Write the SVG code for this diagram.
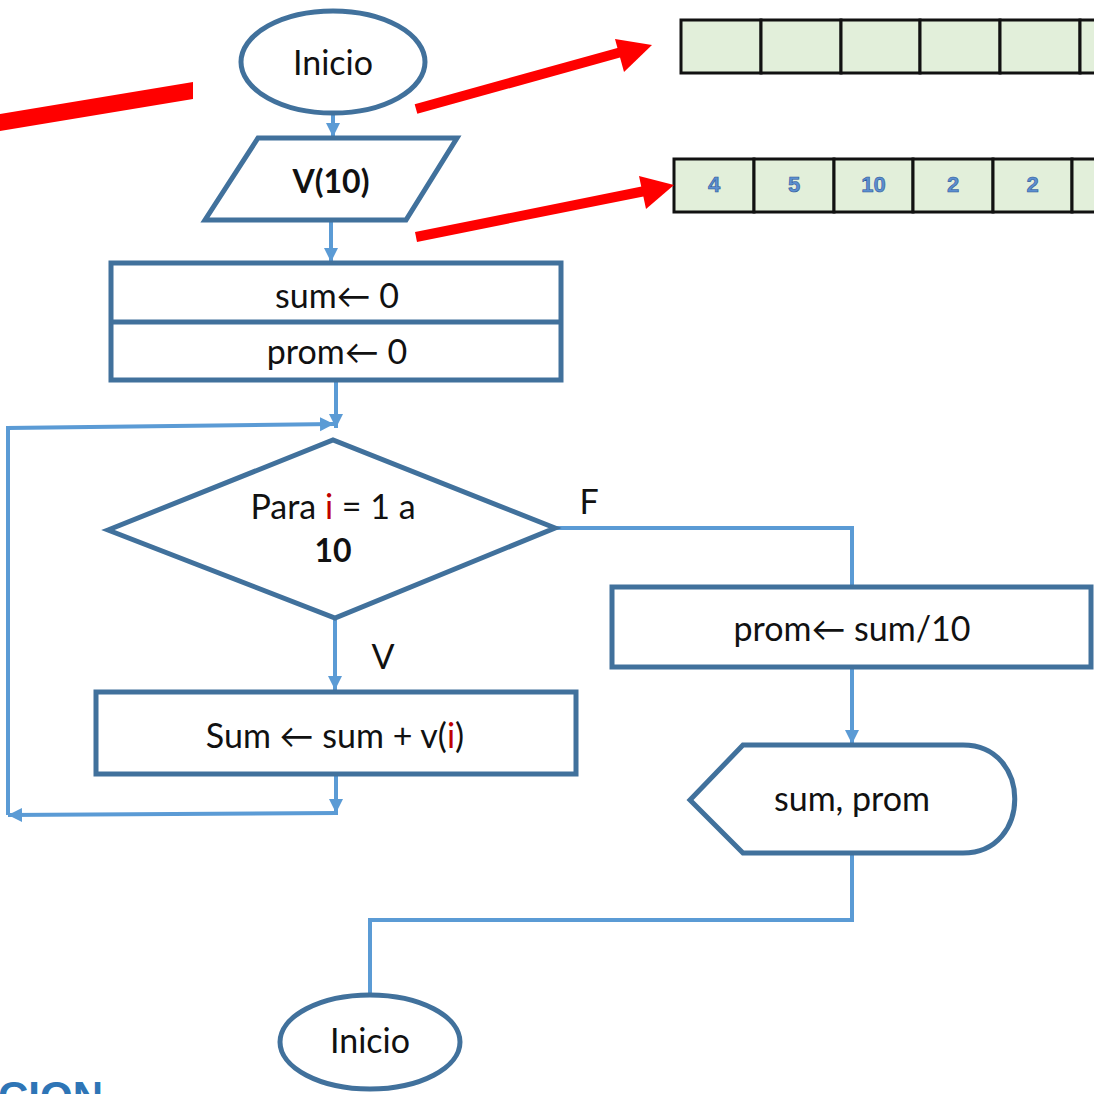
<svg xmlns="http://www.w3.org/2000/svg" width="1094" height="1094" viewBox="0 0 1094 1094">
<style>
.node{fill:#fff;stroke:#41719C;stroke-width:5}
.conn{fill:none;stroke:#5B9BD5;stroke-width:4}
.t{font-family:Lato,"DejaVu Sans",sans-serif;font-size:34px;fill:#111;text-anchor:middle}
.b{font-weight:bold;font-size:32px}
.red{fill:#C00000}
.cell{fill:#E2EFDA;stroke:#111;stroke-width:3}
.num{font-family:"Liberation Sans",Arial,sans-serif;font-weight:bold;font-size:22px;fill:#5B8FD0;stroke:#2F5597;stroke-width:0.6;text-anchor:middle}
.ra{fill:#FF0000}
</style>
<defs>
<marker id="ah" markerUnits="userSpaceOnUse" markerWidth="16" markerHeight="16" refX="14" refY="8" orient="auto">
<path d="M0,1 L14,8 L0,15 Z" fill="#5B9BD5"/>
</marker>
</defs>
<rect width="1094" height="1094" fill="#fff"/>

<g id="arrays">
<g id="array-empty">
<rect class="cell" x="681" y="20" width="80" height="53"/>
<rect class="cell" x="761" y="20" width="80" height="53"/>
<rect class="cell" x="841" y="20" width="79" height="53"/>
<rect class="cell" x="920" y="20" width="80" height="53"/>
<rect class="cell" x="1000" y="20" width="80" height="53"/>
<rect class="cell" x="1080" y="20" width="80" height="53"/>
</g>
<g id="array-values">
<rect class="cell" x="674" y="159" width="80" height="53"/>
<rect class="cell" x="754" y="159" width="80" height="53"/>
<rect class="cell" x="834" y="159" width="79" height="53"/>
<rect class="cell" x="913" y="159" width="80" height="53"/>
<rect class="cell" x="993" y="159" width="79" height="53"/>
<rect class="cell" x="1072" y="159" width="80" height="53"/>
<text class="num" x="714" y="192">4</text>
<text class="num" x="794" y="192">5</text>
<text class="num" x="873.5" y="192">10</text>
<text class="num" x="953" y="192">2</text>
<text class="num" x="1032.5" y="192">2</text>
</g>
</g>

<g id="red-arrows">
<polygon class="ra" points="0,114 193,82 193,99 0,131"/>
<line x1="416" y1="109" x2="625" y2="51" stroke="#FF0000" stroke-width="10"/>
<polygon class="ra" points="652,45 615,39 624,72"/>
<line x1="416" y1="237" x2="645" y2="191" stroke="#FF0000" stroke-width="10"/>
<polygon class="ra" points="674,185 639,176 646,209"/>
</g>

<g id="connectors">
<line class="conn" x1="333" y1="115" x2="333" y2="137" marker-end="url(#ah)"/>
<line class="conn" x1="331" y1="220" x2="331" y2="262" marker-end="url(#ah)"/>
<line class="conn" x1="336" y1="380" x2="336" y2="428" marker-end="url(#ah)"/>
<polyline class="conn" points="8,815 8,428 334,424" marker-end="url(#ah)"/>
<line class="conn" x1="335" y1="618" x2="335" y2="690" marker-end="url(#ah)"/>
<line class="conn" x1="336" y1="775" x2="336" y2="813" marker-end="url(#ah)"/>
<line class="conn" x1="338" y1="813" x2="8" y2="815" marker-end="url(#ah)"/>
<polyline class="conn" points="555,528 852,528 852,587"/>
<line class="conn" x1="852" y1="667" x2="852" y2="744" marker-end="url(#ah)"/>
<polyline class="conn" points="852,853 852,920 370,920 370,994"/>
<text class="t" x="589" y="514">F</text>
<text class="t" x="383" y="669">V</text>
</g>

<g id="start">
<ellipse class="node" cx="333" cy="62" rx="92" ry="51"/>
<text class="t" x="333" y="75">Inicio</text>
</g>

<g id="input">
<polygon class="node" points="258,138 457,138 406,220 205,220"/>
<text class="t b" x="331" y="193">V(10)</text>
</g>

<g id="init">
<rect class="node" x="111" y="263" width="450" height="117"/>
<line x1="111" y1="322" x2="561" y2="322" stroke="#41719C" stroke-width="5"/>
<text class="t" x="337" y="308">sum← 0</text>
<text class="t" x="337" y="364">prom← 0</text>
</g>

<g id="loop">
<polygon class="node" points="108,530 333,440 555,528 335,618"/>
<text class="t" x="333" y="519">Para <tspan class="red">i</tspan> = 1 a</text>
<text class="t b" x="333" y="562">10</text>
</g>

<g id="accumulate">
<rect class="node" x="96" y="692" width="480" height="82"/>
<text class="t" x="335" y="748">Sum ← sum + v(<tspan class="red">i</tspan>)</text>
</g>

<g id="average">
<rect class="node" x="612" y="587" width="479" height="80"/>
<text class="t" x="852" y="641">prom← sum/10</text>
</g>

<g id="output">
<path class="node" d="M690,800 L743,745 L963,745 C1032,745 1032,853 963,853 L743,853 Z"/>
<text class="t" x="852" y="811">sum, prom</text>
</g>

<g id="end">
<ellipse class="node" cx="370" cy="1042" rx="90" ry="47"/>
<text class="t" x="370" y="1053">Inicio</text>
</g>

<text x="-2" y="1111" font-family="'Liberation Sans',Arial,sans-serif" font-weight="bold" font-size="42" fill="#2E75B6">CION</text>
</svg>
